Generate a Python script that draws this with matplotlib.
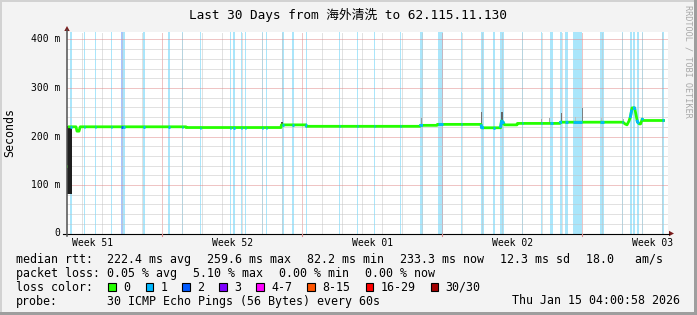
import matplotlib
matplotlib.use("Agg")
import matplotlib.pyplot as plt
from matplotlib.patches import Rectangle, Polygon
import numpy as np

W, H, DPI = 697, 315, 100
MONO = "DejaVu Sans Mono"

# ---------------- data ----------------
title = "Last 30 Days from 海外清洗 to 62.115.11.130"
y_label = "Seconds"
week_labels = ["Week 51", "Week 52", "Week 01", "Week 02", "Week 03"]
week_label_days = [1.275, 8.275, 15.275, 22.275, 29.275]
y_tick_values = [0, 100, 200, 300, 400]
y_tick_labels = ["0", "100 m", "200 m", "300 m", "400 m"]

# median rtt (ms); NaN separates unconnected pieces
median_days = [0.00, 0.05, 0.05, 0.05, 0.45, 0.50, 0.60, 0.66, 5.95, 5.96, 10.70, 10.72,
               11.95, 11.97, 17.65, 17.67, 18.50, 18.52, 20.70, 20.73, 21.68, 21.72,
               21.80, 21.88, 22.50, 22.52, 24.65, 24.67, 27.80, 27.90, 28.00, 28.10,
               28.18, 28.25, 28.38, 28.45, 28.52, 28.62, 28.68, 28.76, 28.82, 29.90]
median_ms = [138, 138, np.nan, 220, 220, 211, 211, 220, 220, 218.5, 218.5, 224,
             224, 221, 221, 223, 223, 225, 225, 218, 218, 232,
             230, 224, 224, 227, 227, 229.5, 229.5, 226, 224, 232,
             242, 259, 259, 245, 230, 226, 226, 236, 233, 233]

# packet-loss intervals (days from start) and lost pings
loss_start = [0.15, 0.85, 1.40, 2.20, 2.70, 2.80, 3.80, 5.05, 5.75, 6.65, 8.15, 8.30,
              8.70, 8.90, 9.75, 9.95, 10.75, 11.25, 11.935, 13.60, 14.485, 15.35,
              16.65, 17.65, 18.55, 19.70, 20.70, 21.30, 21.65, 22.735, 23.685, 24.135,
              24.65, 24.90, 25.285, 26.65, 27.735, 28.15, 28.30, 28.50, 28.75, 29.735]
loss_end = [0.225, 0.915, 1.465, 2.265, 2.80, 2.90, 3.885, 5.15, 5.815, 6.715, 8.215, 8.385,
            8.765, 8.965, 9.815, 10.015, 10.835, 11.35, 12.00, 13.665, 14.535, 15.415,
            16.715, 17.80, 18.80, 19.765, 20.85, 21.385, 21.85, 22.80, 23.75, 24.30,
            24.75, 25.05, 25.75, 26.85, 27.80, 28.235, 28.40, 28.60, 28.80, 29.835]
loss_count = [1, 1, 1, 1, 2, 1, 1, 1, 1, 1, 1, 1,
              1, 1, 1, 1, 1, 1, 1, 1, 1, 1,
              1, 1, 1, 1, 1, 1, 1, 1, 1, 1,
              1, 1, 1, 1, 1, 1, 1, 1, 1, 1]

# smoke (spread of the 30 pings)
smoke_start = [0.015, 10.72, 17.70, 20.70, 21.72, 23.70, 24.08, 24.70, 25.42, 25.75, 26.70, 27.78]
smoke_end = [0.235, 10.80, 17.77, 20.77, 21.80, 23.76, 24.13, 24.77, 25.47, 25.82, 26.75, 27.83]
smoke_lo = [82, 222, 223, 219, 224, 228, 228, 226, 232, 230, 232, 226]
smoke_hi = [222, 230, 238, 250, 251, 236, 238, 248, 240, 259, 238, 236]
smoke_density = [0.88, 0.7, 0.4, 0.55, 0.6, 0.35, 0.35, 0.55, 0.25, 0.5, 0.25, 0.3]

legend_rtt = ["222.4 ms avg", "259.6 ms max", "82.2 ms min", "233.3 ms now", "12.3 ms sd", "18.0   am/s"]
legend_loss = ["0.05 % avg", "5.10 % max", "0.00 % min", "0.00 % now"]
loss_color_labels = ["0", "1", "2", "3", "4-7", "8-15", "16-29", "30/30"]
loss_colors = ["#26ff00", "#00b8ff", "#0059ff", "#7e00ff", "#ff00ff", "#ff5500", "#ff0000", "#a10000"]
probe_text = "30 ICMP Echo Pings (56 Bytes) every 60s"
stamp_text = "Thu Jan 15 04:00:58 2026"

# ---------------- figure ----------------
fig = plt.figure(figsize=(W / DPI, H / DPI), dpi=DPI, facecolor="#f3f3f3")

L, R, T, B = 67, 668, 32, 233.5
ax = fig.add_axes([L / W, 1 - B / H, (R - L) / W, (B - T) / H])
ax.set_facecolor("white")
XMAX = (R - L) / 20.0
YMAX = (B - T) / 0.485
ax.set_xlim(0, XMAX)
ax.set_ylim(0, YMAX)
for s in ax.spines.values():
    s.set_visible(False)
ax.set_xticks([])
ax.set_yticks([])

# loss background stripes
bg_light = {1: "#aae6fb", 2: "#a6c5ff"}
for s0, s1, c in zip(loss_start, loss_end, loss_count):
    ax.axvspan(s0, s1, color=bg_light[c], lw=0, zorder=1)

# grid
dot = (0, (1, 1))
for k in range(0, 31):
    d = 0.765 + k
    if d > XMAX:
        break
    if abs(((d - 4.765) / 7) - round((d - 4.765) / 7)) < 1e-6:
        ax.axvline(d, color="#e08a8a", lw=0.72, ls=dot, zorder=2)
    else:
        ax.axvline(d, color="#c4c4c4", lw=0.72, ls=dot, zorder=2)
for v in range(20, 420, 20):
    if v > YMAX:
        break
    if v % 100 == 0:
        ax.axhline(v, color="#e08a8a", lw=0.72, ls=dot, zorder=2)
    else:
        ax.axhline(v, color="#c4c4c4", lw=0.72, ls=dot, zorder=2)

# smoke
for s0, s1, lo, hi, dn in zip(smoke_start, smoke_end, smoke_lo, smoke_hi, smoke_density):
    g = 1 - dn
    ax.bar(s0, hi - lo, bottom=lo, width=s1 - s0, align="edge",
           color=(g, g, g), lw=0, zorder=3)

# median line
md = np.array(median_days)
mv = np.array(median_ms, dtype=float)
ax.plot(md, mv, color="#26ff00", lw=2.0, zorder=4, solid_capstyle="butt")
ok = np.isfinite(mv)
for s0, s1, c in zip(loss_start, loss_end, loss_count):
    xs = np.linspace(s0, s1, 6)
    ax.plot(xs, np.interp(xs, md[ok][2:], mv[ok][2:]), color=loss_colors[c], lw=2.0,
            zorder=5, solid_capstyle="butt")

# ---------------- overlay in pixel coordinates ----------------
ov = fig.add_axes([0, 0, 1, 1], facecolor="none")
ov.set_xlim(0, W)
ov.set_ylim(H, 0)
ov.axis("off")

# frame
ov.add_patch(Rectangle((0, 0), W, 2, color="#d2d2d2", lw=0))
ov.add_patch(Rectangle((0, 0), 2, H, color="#d2d2d2", lw=0))
ov.add_patch(Rectangle((0, H - 3), W, 3, color="#9e9e9e", lw=0))
ov.add_patch(Rectangle((W - 3, 0), 3, H, color="#9e9e9e", lw=0))

# axes lines and arrows
ov.plot([63, 669], [233.5, 233.5], color="black", lw=0.8)
ov.plot([67, 67], [236, 30], color="#505050", lw=1.1)
ov.add_patch(Polygon([(64.3, 31), (69.7, 31), (67, 26)], closed=True, color="#7a1c1c", lw=0))
ov.add_patch(Polygon([(669, 230.8), (669, 236.2), (674, 233.5)], closed=True, color="#7a1c1c", lw=0))

# tick marks below x axis at major grid
for k in range(4):
    xp = L + (4.765 + 7 * k) * 20
    ov.plot([xp, xp], [233.5, 236], color="#e08a8a", lw=0.8)

# title
fig.text(347.5 / W, 1 - 15 / H, title, ha="center", va="center", fontsize=9.2,
         family=[MONO, "Noto Sans CJK SC"], color="#000000")
# y label
fig.text(10 / W, 1 - 132.5 / H, y_label, rotation=90, ha="center", va="center",
         fontsize=8.4, family=MONO)
# watermark
fig.text(688 / W, 1 - 61 / H, "RRDTOOL / TOBI OETIKER", rotation=270, ha="center",
         va="center", fontsize=6.1, family=MONO, color="#a8a8a8")

# y tick labels
for v, lab in zip(y_tick_values, y_tick_labels):
    yp = B - v * 0.485
    fig.text(60 / W, 1 - yp / H, lab, ha="right", va="center", fontsize=7.0, family=MONO)
# week labels
for d, lab in zip(week_label_days, week_labels):
    xp = L + d * 20
    fig.text(xp / W, 1 - 242.7 / H, lab, ha="center", va="center", fontsize=7.0, family=MONO)

# legend
FS = 8.37
def t(x, y, s, ha="left"):
    fig.text(x / W, 1 - y / H, s, ha=ha, va="center", fontsize=FS, family=MONO)

y1, y2, y3, y4 = 259.5, 273.3, 287.3, 301.0
t(16, y1, "median rtt:")
for x, s in zip([107, 207, 307, 400, 500, 586], legend_rtt):
    t(x, y1, s)
t(16, y2, "packet loss:")
for x, s in zip([107, 193, 279, 365], legend_loss):
    t(x, y2, s)
t(16, y3, "loss color:")
sw_x = [108.3, 145.7, 182.3, 219, 256, 307.3, 365.7, 430.7]
for x, lab, col in zip(sw_x, loss_color_labels, loss_colors):
    ov.add_patch(Rectangle((x, 283.3), 7.5, 8, facecolor=col, edgecolor="black", lw=0.8))
    t(x + 15, y3, lab)
t(16, y4, "probe:")
t(107, y4, probe_text)
t(680, y4, stamp_text, ha="right")

fig.savefig("out.png", dpi=DPI, facecolor=fig.get_facecolor())
